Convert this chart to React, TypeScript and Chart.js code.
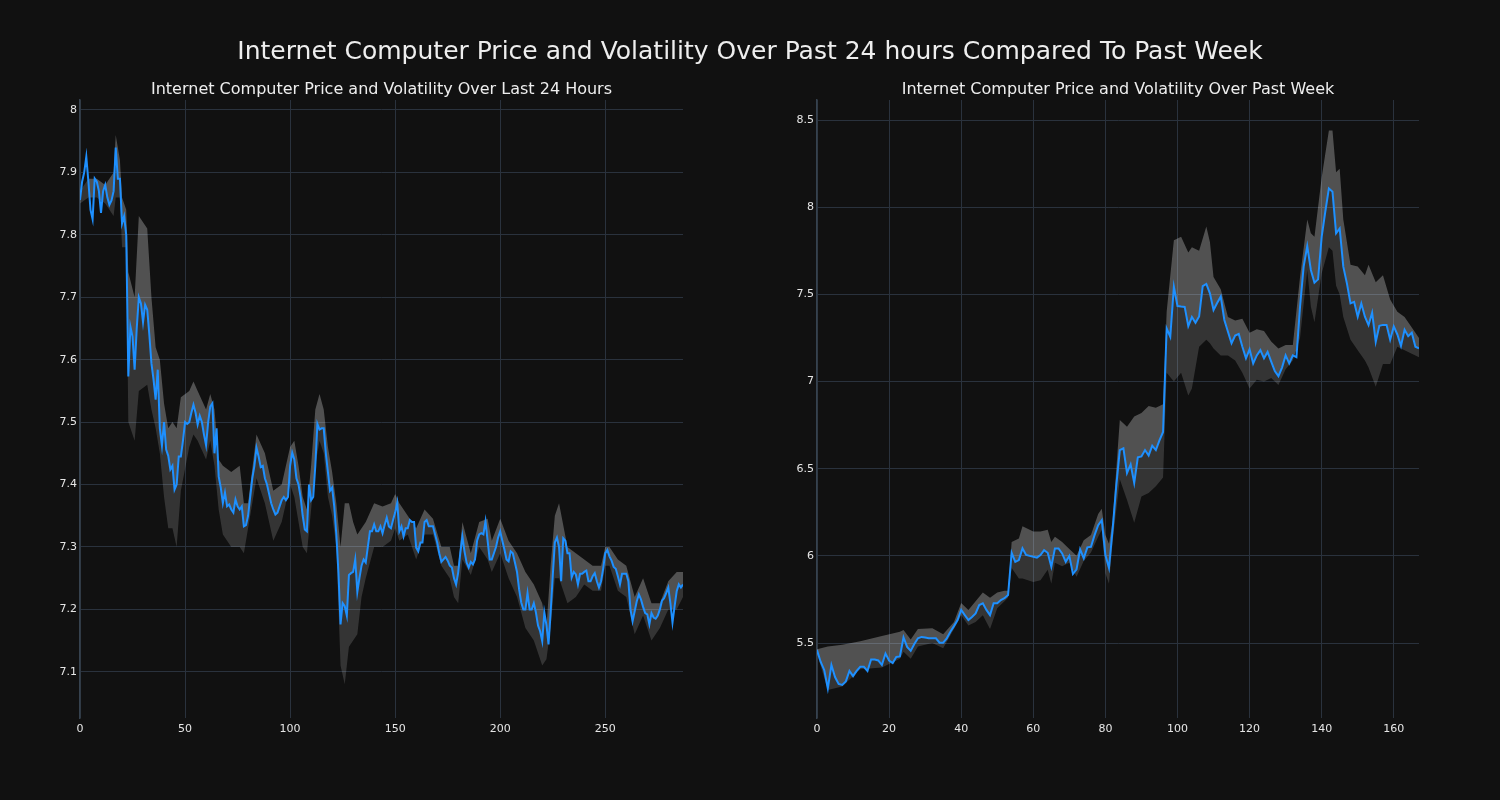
import React, { useEffect, useRef } from "react";
import { Chart, registerables } from "chart.js";

Chart.register(...registerables);

// ---------------- data: last 24 hours (5-minute steps) ----------------
const price24: number[] = [
  7.856, 7.885, 7.9, 7.925, 7.885, 7.84, 7.825, 7.89, 7.885, 7.87,
  7.835, 7.87, 7.88, 7.86, 7.848, 7.855, 7.87, 7.94, 7.89, 7.89,
  7.818, 7.83, 7.8, 7.573, 7.653, 7.637, 7.584, 7.65, 7.7, 7.69,
  7.66, 7.688, 7.68, 7.64, 7.594, 7.568, 7.536, 7.584, 7.49, 7.462,
  7.5, 7.456, 7.446, 7.424, 7.43, 7.392, 7.4, 7.445, 7.445, 7.47,
  7.5, 7.497, 7.5, 7.515, 7.528, 7.515, 7.496, 7.51, 7.5, 7.48,
  7.463, 7.5, 7.525, 7.53, 7.45, 7.49, 7.413, 7.395, 7.37, 7.387,
  7.365, 7.368, 7.36, 7.355, 7.376, 7.365, 7.36, 7.365, 7.333, 7.335,
  7.35, 7.38, 7.41, 7.43, 7.459, 7.445, 7.428, 7.43, 7.41, 7.4,
  7.385, 7.37, 7.36, 7.352, 7.355, 7.365, 7.375, 7.38, 7.375, 7.38,
  7.43, 7.451, 7.44, 7.41, 7.4, 7.38, 7.35, 7.328, 7.325, 7.4,
  7.375, 7.38, 7.43, 7.497, 7.488, 7.49, 7.49, 7.45, 7.42, 7.39,
  7.395, 7.365, 7.32, 7.259, 7.176, 7.21, 7.205, 7.19, 7.255, 7.258,
  7.26, 7.28, 7.228, 7.25, 7.27, 7.28, 7.275, 7.3, 7.325, 7.325,
  7.336, 7.325, 7.325, 7.333, 7.322, 7.335, 7.347, 7.333, 7.33, 7.343,
  7.355, 7.371, 7.325, 7.333, 7.317, 7.33, 7.33, 7.343, 7.34, 7.34,
  7.299, 7.293, 7.307, 7.307, 7.34, 7.343, 7.333, 7.333, 7.333, 7.32,
  7.307, 7.29, 7.276, 7.28, 7.284, 7.278, 7.27, 7.267, 7.25, 7.24,
  7.259, 7.29, 7.317, 7.293, 7.275, 7.267, 7.276, 7.272, 7.28, 7.31,
  7.32, 7.322, 7.32, 7.341, 7.31, 7.28, 7.28, 7.29, 7.3, 7.315,
  7.325, 7.31, 7.296, 7.28, 7.277, 7.293, 7.29, 7.275, 7.26, 7.232,
  7.211, 7.2, 7.2, 7.226, 7.2, 7.2, 7.21, 7.195, 7.174, 7.165,
  7.149, 7.195, 7.175, 7.144, 7.195, 7.253, 7.307, 7.315, 7.3, 7.245,
  7.314, 7.31, 7.29, 7.29, 7.251, 7.26, 7.256, 7.24, 7.257, 7.257,
  7.26, 7.262, 7.245, 7.245, 7.253, 7.258, 7.245, 7.235, 7.245, 7.265,
  7.29, 7.295, 7.285, 7.278, 7.268, 7.265, 7.253, 7.24, 7.257, 7.257,
  7.257, 7.245, 7.2, 7.181, 7.197, 7.213, 7.224, 7.216, 7.204, 7.194,
  7.192, 7.176, 7.194, 7.187, 7.185, 7.19, 7.2, 7.214, 7.218, 7.226,
  7.235, 7.21, 7.179, 7.205, 7.229, 7.24, 7.235, 7.24,
];

const band24X: number[] = [
  0, 4, 8, 12, 16, 17, 19, 20, 22, 23, 26, 28, 32, 34, 36, 38, 40, 42, 44, 46,
  48, 52, 54, 56, 60, 62, 64, 66, 68, 72, 76, 78, 80, 84, 88, 92, 96, 100, 102, 104,
  106, 108, 110, 112, 114, 116, 118, 120, 122, 124, 126, 128, 130, 132, 134, 136, 140, 144, 148, 150,
  152, 156, 160, 164, 168, 172, 176, 178, 180, 182, 186, 190, 194, 196, 200, 204, 208, 212, 216, 220,
  222, 224, 226, 228, 232, 236, 240, 244, 248, 250, 252, 256, 260, 264, 268, 272, 276, 280, 284, 287,
];
const band24Upper: number[] = [
  7.87, 7.89, 7.89, 7.88, 7.9, 7.96, 7.92, 7.86, 7.84, 7.74, 7.7, 7.83, 7.81, 7.7, 7.62, 7.6, 7.53, 7.49, 7.5, 7.49,
  7.54, 7.55, 7.565, 7.55, 7.52, 7.545, 7.52, 7.44, 7.43, 7.42, 7.43, 7.37, 7.37, 7.48, 7.45, 7.39, 7.4, 7.46, 7.47, 7.43,
  7.38, 7.36, 7.43, 7.52, 7.545, 7.52, 7.46, 7.42, 7.37, 7.3, 7.37, 7.37, 7.34, 7.32, 7.33, 7.34, 7.37, 7.365, 7.37, 7.385,
  7.37, 7.35, 7.33, 7.36, 7.345, 7.3, 7.3, 7.27, 7.27, 7.34, 7.29, 7.34, 7.345, 7.31, 7.345, 7.31, 7.29, 7.26, 7.24, 7.21,
  7.17, 7.27, 7.35, 7.37, 7.3, 7.29, 7.28, 7.27, 7.27, 7.3, 7.3, 7.28, 7.27, 7.22, 7.25, 7.21, 7.21, 7.245, 7.26, 7.26,
];
const band24Lower: number[] = [
  7.85, 7.86, 7.86, 7.85, 7.83, 7.86, 7.86, 7.78, 7.78, 7.5, 7.47, 7.55, 7.56, 7.52, 7.49, 7.45, 7.38, 7.33, 7.33, 7.3,
  7.39, 7.46, 7.48, 7.47, 7.44, 7.47, 7.43, 7.36, 7.32, 7.3, 7.3, 7.29, 7.33, 7.41, 7.37, 7.31, 7.34, 7.4, 7.38, 7.34,
  7.3, 7.29, 7.36, 7.43, 7.47, 7.45, 7.38, 7.35, 7.3, 7.11, 7.08, 7.14, 7.15, 7.16, 7.22, 7.25, 7.3, 7.3, 7.31, 7.33,
  7.31, 7.32, 7.28, 7.32, 7.32, 7.27, 7.25, 7.22, 7.21, 7.28, 7.255, 7.3, 7.28, 7.26, 7.29, 7.25, 7.22, 7.17, 7.15, 7.11,
  7.12, 7.17, 7.25, 7.25, 7.21, 7.22, 7.24, 7.23, 7.23, 7.27, 7.27, 7.23, 7.22, 7.16, 7.19, 7.15, 7.17, 7.2, 7.2, 7.22,
];

// ---------------- data: past week (hourly) ----------------
const priceWeek: number[] = [
  5.46, 5.393, 5.345, 5.24, 5.374, 5.305, 5.265, 5.26, 5.28, 5.34,
  5.31, 5.34, 5.364, 5.364, 5.34, 5.406, 5.406, 5.4, 5.374, 5.44,
  5.4, 5.385, 5.42, 5.423, 5.532, 5.478, 5.455, 5.494, 5.527, 5.535,
  5.532, 5.527, 5.527, 5.527, 5.502, 5.502, 5.527, 5.565, 5.597, 5.632,
  5.69, 5.66, 5.632, 5.65, 5.67, 5.718, 5.728, 5.69, 5.66, 5.728,
  5.728, 5.747, 5.757, 5.775, 6.018, 5.966, 5.976, 6.043, 6.005, 6.0,
  5.995, 5.99, 6.005, 6.033, 6.018, 5.938, 6.043, 6.043, 6.014, 5.966,
  6.0, 5.896, 5.923, 6.037, 5.986, 6.049, 6.052, 6.119, 6.176, 6.205,
  6.005, 5.93, 6.15, 6.397, 6.607, 6.617, 6.475, 6.525, 6.418, 6.565,
  6.57, 6.607, 6.576, 6.632, 6.607, 6.662, 6.711, 7.305, 7.257, 7.544,
  7.433, 7.43, 7.428, 7.318, 7.37, 7.337, 7.373, 7.548, 7.56, 7.506,
  7.41, 7.45, 7.487, 7.353, 7.286, 7.22, 7.264, 7.273, 7.2, 7.133,
  7.185, 7.104, 7.15, 7.18, 7.133, 7.17, 7.114, 7.06, 7.031, 7.08,
  7.15, 7.104, 7.15, 7.14, 7.43, 7.659, 7.777, 7.64, 7.567, 7.586,
  7.83, 7.974, 8.108, 8.089, 7.85, 7.878, 7.659, 7.563, 7.448, 7.457,
  7.372, 7.448, 7.372, 7.324, 7.395, 7.228, 7.32, 7.325, 7.325, 7.24,
  7.316, 7.27, 7.204, 7.297, 7.26, 7.28, 7.2, 7.19,
];

const bandWeekX: number[] = [
  0, 3, 7, 12, 18, 23, 24, 26, 28, 32, 35, 38, 40, 42, 44, 46, 48, 50, 52, 53,
  54, 56, 57, 60, 62, 64, 65, 66, 68, 70, 72, 74, 76, 78, 79, 80, 81, 82, 84, 86,
  88, 90, 92, 94, 96, 97, 99, 101, 103, 104, 106, 108, 109, 110, 112, 114, 116, 118, 120, 122,
  124, 126, 128, 130, 132, 134, 136, 137, 138, 140, 142, 143, 144, 145, 146, 148, 150, 152, 153, 155,
  157, 159, 161, 163, 165, 167,
];
const bandWeekUpper: number[] = [
  5.465, 5.48, 5.49, 5.51, 5.54, 5.565, 5.575, 5.52, 5.58, 5.585, 5.55, 5.62, 5.73, 5.69, 5.74, 5.79, 5.76, 5.79, 5.8, 5.8,
  6.08, 6.1, 6.17, 6.14, 6.14, 6.15, 6.08, 6.11, 6.08, 6.04, 6.0, 6.09, 6.12, 6.24, 6.27, 6.12, 6.07, 6.2, 6.78, 6.74,
  6.8, 6.82, 6.86, 6.85, 6.87, 7.4, 7.81, 7.83, 7.74, 7.77, 7.75, 7.89, 7.8, 7.6, 7.53, 7.37, 7.35, 7.36, 7.28, 7.3,
  7.29, 7.23, 7.19, 7.21, 7.21, 7.6, 7.93, 7.85, 7.83, 8.17, 8.44, 8.44, 8.2, 8.22, 7.93, 7.67, 7.66, 7.61, 7.67, 7.57,
  7.61, 7.47, 7.4, 7.37, 7.31, 7.25,
];
const bandWeekLower: number[] = [
  5.44, 5.23, 5.25, 5.35, 5.36, 5.41, 5.45, 5.41, 5.48, 5.5, 5.47, 5.58, 5.66, 5.6, 5.62, 5.66, 5.58, 5.7, 5.74, 5.76,
  5.93, 5.87, 5.87, 5.85, 5.86, 5.92, 5.84, 5.96, 5.94, 5.96, 5.88, 5.97, 6.02, 6.11, 6.15, 5.9, 5.84, 6.08, 6.44, 6.32,
  6.19, 6.34, 6.36, 6.4, 6.45, 7.05, 7.0, 7.05, 6.92, 6.96, 7.2, 7.24, 7.22, 7.19, 7.15, 7.15, 7.12, 7.05, 6.96, 7.01,
  7.0, 7.02, 6.98, 7.07, 7.12, 7.25, 7.64, 7.43, 7.34, 7.62, 7.77, 7.75, 7.55, 7.5, 7.37, 7.24, 7.18, 7.12, 7.08, 6.97,
  7.1, 7.1, 7.2, 7.18, 7.16, 7.14,
];

// ---------------- axis ticks ----------------
const x24Ticks: number[] = [0, 50, 100, 150, 200, 250];
const y24Ticks: number[] = [7.1, 7.2, 7.3, 7.4, 7.5, 7.6, 7.7, 7.8, 7.9, 8];
const xWeekTicks: number[] = [0, 20, 40, 60, 80, 100, 120, 140, 160];
const yWeekTicks: number[] = [5.5, 6, 6.5, 7, 7.5, 8, 8.5];

const mainTitle = "Internet Computer Price and Volatility Over Past 24 hours Compared To Past Week";
const title24 = "Internet Computer Price and Volatility Over Last 24 Hours";
const titleWeek = "Internet Computer Price and Volatility Over Past Week";

// ---------------- styles ----------------
const BG = "#111111";
const GRID = "#2a323d";
const SPINE = "#36424f";
const TICK_COLOR = "#e6e6e6";
const LINE = "#1e90ff";
const LIGHT = "rgba(255,255,255,0.27)";
const DARK = "rgba(255,255,255,0.15)";
const NONE = "rgba(0,0,0,0)";
const FONT = "'DejaVu Sans', sans-serif";

Chart.defaults.font.family = FONT;

type PanelSpec = {
  price: number[];
  bandX: number[];
  upper: number[];
  lower: number[];
  xMax: number;
  yMin: number;
  yMax: number;
  xTicks: number[];
  yTicks: number[];
  yAxisWidth: number;
  padRight: number;
};

function fmt(v: number): string {
  return String(Number(v.toFixed(3)));
}

function makeChart(canvas: HTMLCanvasElement, p: PanelSpec): Chart {
  const pricePts = p.price.map((y, i) => ({ x: i, y }));
  const upperPts = p.bandX.map((x, i) => ({ x, y: p.upper[i] }));
  const lowerPts = p.bandX.map((x, i) => ({ x, y: p.lower[i] }));
  const bandBase = {
    borderWidth: 0,
    borderColor: NONE,
    pointRadius: 0,
    pointHoverRadius: 0,
    tension: 0,
  };
  return new Chart(canvas, {
    type: "line",
    data: {
      datasets: [
        {
          label: "price",
          data: pricePts,
          borderColor: LINE,
          borderWidth: 2,
          pointRadius: 0,
          pointHoverRadius: 0,
          fill: false,
          tension: 0,
          order: 0,
        },
        { ...bandBase, label: "upperLight", data: upperPts, fill: { target: 0, above: LIGHT, below: NONE }, order: 5 },
        { ...bandBase, label: "lowerDark", data: lowerPts, fill: { target: 0, above: NONE, below: DARK }, order: 4 },
        { ...bandBase, label: "upperMask", data: upperPts, fill: { target: 0, above: NONE, below: BG }, order: 3 },
        { ...bandBase, label: "lowerMask", data: lowerPts, fill: { target: 0, above: BG, below: NONE }, order: 2 },
      ] as any,
    },
    options: {
      responsive: false,
      maintainAspectRatio: false,
      animation: false,
      events: [],
      layout: { padding: { left: 0, right: p.padRight, top: 100, bottom: 52 } },
      plugins: {
        legend: { display: false },
        tooltip: { enabled: false },
        title: { display: false },
      },
      scales: {
        x: {
          type: "linear",
          min: 0,
          max: p.xMax,
          afterBuildTicks: (s: any) => {
            s.ticks = p.xTicks.map((v) => ({ value: v }));
          },
          afterFit: (s: any) => {
            s.height = 30;
          },
          grid: { color: GRID, lineWidth: 1, drawTicks: false },
          border: { display: false },
          ticks: {
            color: TICK_COLOR,
            font: { size: 11, family: FONT },
            padding: 5,
            maxRotation: 0,
            autoSkip: false,
            callback: (v: any) => fmt(Number(v)),
          },
        },
        y: {
          type: "linear",
          min: p.yMin,
          max: p.yMax,
          afterBuildTicks: (s: any) => {
            s.ticks = p.yTicks.map((v) => ({ value: v }));
          },
          afterFit: (s: any) => {
            s.width = p.yAxisWidth;
          },
          grid: { color: GRID, lineWidth: 1, drawTicks: false },
          border: { display: true, color: SPINE, width: 1.5 },
          ticks: {
            color: TICK_COLOR,
            font: { size: 11, family: FONT },
            padding: 3,
            autoSkip: false,
            callback: (v: any) => fmt(Number(v)),
          },
        },
      },
    } as any,
  });
}

function Panel({ spec, left }: { spec: PanelSpec; left: number }) {
  const ref = useRef<HTMLCanvasElement | null>(null);
  useEffect(() => {
    if (!ref.current) return;
    const chart = makeChart(ref.current, spec);
    return () => chart.destroy();
  }, [spec]);
  return (
    <canvas
      ref={ref}
      width={750}
      height={800}
      style={{ position: "absolute", left, top: 0, width: 750, height: 800 }}
    />
  );
}

const spec24: PanelSpec = {
  price: price24,
  bandX: band24X,
  upper: band24Upper,
  lower: band24Lower,
  xMax: 287,
  yMin: 7.026,
  yMax: 8.016,
  xTicks: x24Ticks,
  yTicks: y24Ticks,
  yAxisWidth: 80,
  padRight: 67,
};

const specWeek: PanelSpec = {
  price: priceWeek,
  bandX: bandWeekX,
  upper: bandWeekUpper,
  lower: bandWeekLower,
  xMax: 167,
  yMin: 5.07,
  yMax: 8.615,
  xTicks: xWeekTicks,
  yTicks: yWeekTicks,
  yAxisWidth: 67,
  padRight: 81,
};

const titleStyle = (cx: number, cy: number, size: number): React.CSSProperties => ({
  position: "absolute",
  left: cx,
  top: cy,
  transform: "translate(-50%, -50%)",
  whiteSpace: "nowrap",
  color: "#eeeeee",
  fontFamily: FONT,
  fontSize: size,
  lineHeight: 1,
});

export default function App() {
  return (
    <div
      style={{
        position: "fixed",
        left: 0,
        top: 0,
        width: 1500,
        height: 800,
        background: BG,
        overflow: "hidden",
      }}
    >
      <Panel spec={spec24} left={0} />
      <Panel spec={specWeek} left={750} />
      <div style={titleStyle(750, 50, 25)}>{mainTitle}</div>
      <div style={titleStyle(381.5, 89, 16)}>{title24}</div>
      <div style={titleStyle(1118, 89, 16)}>{titleWeek}</div>
    </div>
  );
}
